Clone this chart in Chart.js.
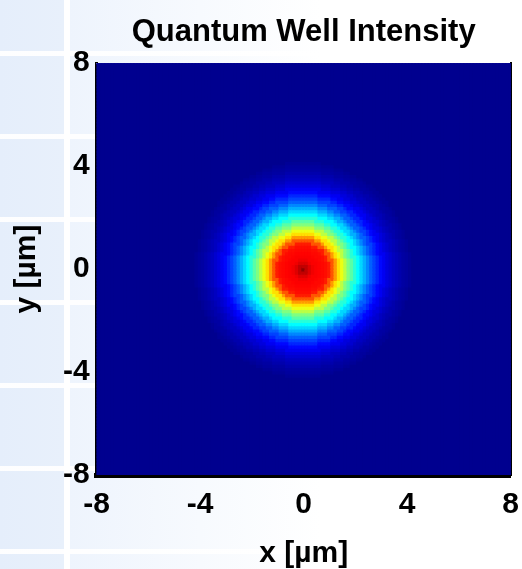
<!DOCTYPE html>
<html>
<head>
<meta charset="utf-8">
<script src="https://cdn.jsdelivr.net/npm/chart.js@4"></script>
<style>
  html, body { margin: 0; padding: 0; }
  body {
    width: 522px; height: 569px; overflow: hidden;
    background:
      linear-gradient(90deg, transparent 0 64px, #ffffff 64px 70px, transparent 70px),
      repeating-linear-gradient(180deg, transparent 0 51px, rgba(255,255,255,0.95) 51px 56px, transparent 56px 83px),
      linear-gradient(90deg, #e5eefb 0, #e8f0fb 64px, #eef4fd 70px, #f7fafe 200px, #ffffff 320px);
  }
  canvas { display: block; }
</style>
</head>
<body>
<canvas id="wellChart" width="522" height="569"></canvas>
<script>
// tick labels on both axes (µm)
const tickValues = [-8, -4, 0, 4, 8];
// cell size of the intensity map (µm)
const cellStep = 0.125;
// radial intensity profile (normalised, 0..1)
const profileRadius = [
  0, 0.125, 0.25, 0.375, 0.5, 0.625, 0.75, 0.875, 1.0, 1.125, 1.25, 1.375, 1.5, 1.625, 1.75, 1.875,
  2.0, 2.125, 2.25, 2.375, 2.5, 2.625, 2.75, 2.875, 3.0, 3.125, 3.25, 3.375, 3.5, 3.625, 3.75, 3.875, 4.0, 4.125, 4.25
];
const profileIntensity = [
  1.0, 0.95, 0.92, 0.90, 0.89, 0.885, 0.88, 0.875, 0.86, 0.80, 0.73, 0.66, 0.61, 0.56, 0.50, 0.46,
  0.41, 0.37, 0.33, 0.29, 0.25, 0.21, 0.18, 0.15, 0.12, 0.10, 0.08, 0.065, 0.05, 0.04, 0.03, 0.02, 0.015, 0.008, 0.0
];

const fontFamily = '"Liberation Sans", Arial, sans-serif';

// matlab style jet colour map
function jet(v) {
  const t = 1 / 64 + v * 62 / 64;
  const c = k => Math.round(255 * Math.max(0, Math.min(1, 1.5 - Math.abs(4 * t - k))));
  return 'rgb(' + c(3) + ',' + c(2) + ',' + c(1) + ')';
}

function intensityAt(x, y) {
  const r = Math.sqrt(x * x + y * y);
  const idx = Math.round(r / cellStep);
  return idx < profileRadius.length ? profileIntensity[idx] : 0;
}

// build the cells
const cells = [];
const cellColors = [];
const n = Math.round(16 / cellStep);
for (let i = 0; i <= n; i++) {
  for (let j = 0; j <= n; j++) {
    const x = -8 + i * cellStep;
    const y = -8 + j * cellStep;
    cells.push({ x: x, y: y });
    cellColors.push(jet(intensityAt(x, y)));
  }
}

function cellRadius(ctx) {
  const sx = ctx.chart.scales.x, sy = ctx.chart.scales.y;
  const w = Math.abs(sx.getPixelForValue(cellStep) - sx.getPixelForValue(0));
  const h = Math.abs(sy.getPixelForValue(cellStep) - sy.getPixelForValue(0));
  return (Math.max(w, h) + 1.5) / Math.SQRT2;
}

// fill behind the cells so no seams show through
const areaFill = {
  id: 'areaFill',
  beforeDatasetsDraw(chart) {
    const a = chart.chartArea, ctx = chart.ctx;
    ctx.save();
    ctx.fillStyle = jet(0);
    ctx.fillRect(a.left, a.top, a.right - a.left, a.bottom - a.top);
    ctx.restore();
  }
};

const tickFont = { family: fontFamily, size: 30, weight: 'bold' };

new Chart(document.getElementById('wellChart'), {
  type: 'scatter',
  data: {
    datasets: [{
      data: cells,
      backgroundColor: cellColors,
      borderWidth: 0,
      pointStyle: 'rect',
      rotation: 0,
      pointRadius: cellRadius,
      pointHoverRadius: cellRadius
    }]
  },
  options: {
    responsive: false,
    animation: false,
    events: [],
    layout: { padding: { left: 12, right: 5, top: 0, bottom: 0 } },
    plugins: {
      legend: { display: false },
      tooltip: { enabled: false },
      title: {
        display: true,
        fullSize: false,
        text: 'Quantum Well Intensity',
        color: '#000',
        font: { family: fontFamily, size: 31, weight: 'bold', lineHeight: 1.2 },
        padding: { top: 14, bottom: 12 }
      }
    },
    scales: {
      x: {
        type: 'linear', min: -8, max: 8,
        afterBuildTicks: axis => { axis.ticks = tickValues.map(v => ({ value: v })); },
        ticks: { font: tickFont, color: '#000', padding: 3, maxRotation: 0, autoSkip: false },
        grid: { display: false, drawTicks: true, tickLength: 9 },
        border: { display: true, color: '#000', width: 5 },
        title: { display: true, text: 'x [µm]', color: '#000', font: { family: fontFamily, size: 30, weight: 'bold', lineHeight: 1 }, padding: { top: 13, bottom: 0 } }
      },
      y: {
        type: 'linear', min: -8, max: 8,
        afterBuildTicks: axis => { axis.ticks = tickValues.map(v => ({ value: v })); },
        ticks: { font: tickFont, color: '#000', padding: 7, autoSkip: false },
        grid: { display: false, drawTicks: false },
        border: { display: true, color: '#000', width: 3 },
        title: { display: true, text: 'y [µm]', color: '#000', font: { family: fontFamily, size: 30, weight: 'bold', lineHeight: 1 }, padding: { top: 0, bottom: 14 } }
      },
      x2: {
        type: 'linear', position: 'top', min: -8, max: 8,
        ticks: { display: false },
        grid: { display: false, drawTicks: false },
        border: { display: true, color: '#6a6ad6', width: 1 }
      },
      y2: {
        type: 'linear', position: 'right', min: -8, max: 8,
        ticks: { display: false },
        grid: { display: false, drawTicks: false },
        border: { display: true, color: '#000', width: 2, dash: [3, 5] }
      }
    }
  },
  plugins: [areaFill]
});
</script>
</body>
</html>
